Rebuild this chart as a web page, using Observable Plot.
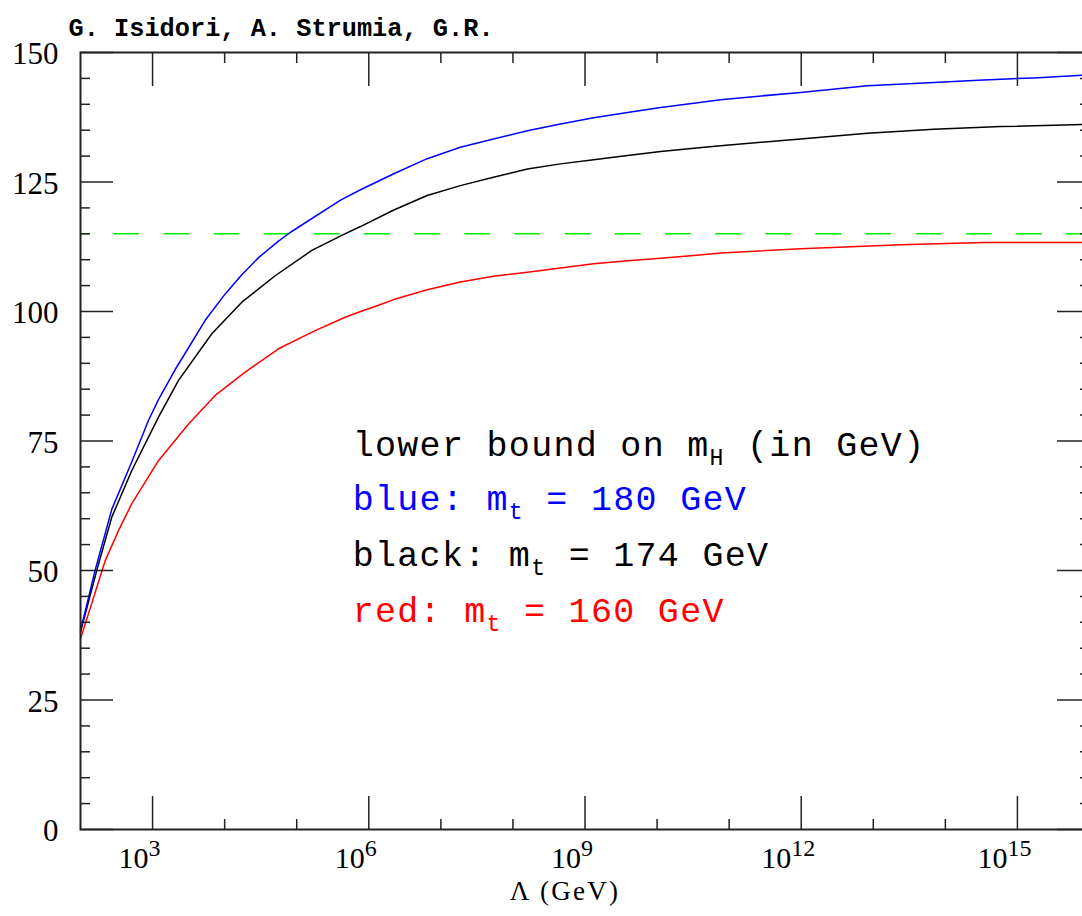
<!DOCTYPE html>
<html>
<head>
<meta charset="utf-8">
<script src="https://cdn.jsdelivr.net/npm/d3@7"></script>
<script src="https://cdn.jsdelivr.net/npm/@observablehq/plot@0.6"></script>
<style>
  html, body { margin: 0; padding: 0; background: #fff; overflow: hidden; }
  #chart svg { display: block; }
</style>
</head>
<body>
<div id="chart"></div>
<script>
// ---- data ----
// x = log10(Λ / GeV), y = lower bound on m_H (GeV)
const blueLog = [2.0, 2.204, 2.434, 2.712, 2.944, 3.082, 3.314, 3.499, 3.730, 4.008, 4.238, 4.470, 4.747, 4.914, 5.608, 5.885, 6.347, 6.81, 7.27, 7.73, 8.2, 8.66, 9.12, 9.59, 10.05, 10.51, 10.88, 11.99, 12.92, 13.84, 14.53, 15.23, 15.9, 16.0];
const blueMH  = [38.4, 50.1, 61.8, 71.0, 79.0, 83.0, 88.8, 93.0, 98.3, 103.4, 107.1, 110.4, 113.6, 115.3, 121.5, 123.5, 126.6, 129.5, 131.7, 133.3, 134.9, 136.2, 137.4, 138.4, 139.4, 140.2, 140.9, 142.3, 143.6, 144.2, 144.7, 145.1, 145.6, 145.7];

const blackLog = [2.0, 2.227, 2.434, 2.712, 3.082, 3.360, 3.822, 4.238, 4.701, 5.210, 5.653, 5.885, 6.347, 6.81, 7.27, 7.73, 8.2, 8.66, 9.12, 9.59, 10.05, 10.51, 10.88, 11.99, 12.92, 13.84, 14.77, 15.9, 16.0];
const blackMH  = [38.1, 50.1, 60.3, 69.3, 79.6, 86.7, 95.7, 101.8, 106.9, 111.8, 114.9, 116.4, 119.6, 122.4, 124.3, 125.9, 127.5, 128.5, 129.3, 130.1, 130.9, 131.5, 132.0, 133.3, 134.4, 135.2, 135.7, 136.1, 136.2];

const redLog = [2.0, 2.343, 2.527, 2.712, 3.082, 3.499, 3.869, 4.285, 4.747, 5.256, 5.672, 5.885, 6.135, 6.347, 6.81, 7.27, 7.73, 8.2, 8.66, 9.12, 9.59, 10.05, 10.51, 10.88, 11.99, 13.38, 14.53, 15.9, 16.0];
const redMH  = [36.8, 51.9, 57.7, 62.9, 71.2, 78.3, 83.8, 88.3, 92.8, 96.3, 98.9, 100.0, 101.2, 102.3, 104.2, 105.7, 106.8, 107.6, 108.4, 109.2, 109.8, 110.3, 110.8, 111.3, 112.1, 112.9, 113.3, 113.3, 113.3];

const lepBound = 115;                       // green dashed line (GeV)
const xDomainExp = [2, 16];                 // Λ from 10^2 to 10^16 GeV
const majorXExp = [3, 6, 9, 12, 15];
const minorXExp = [4, 5, 7, 8, 10, 11, 13, 14];
const majorY = [0, 25, 50, 75, 100, 125, 150];
const minorY = [5, 10, 15, 20, 30, 35, 40, 45, 55, 60, 65, 70, 80, 85, 90, 95, 105, 110, 115, 120, 130, 135, 140, 145];

const titleText = "G. Isidori, A. Strumia, G.R.";
const xLabel = "Λ (GeV)";
const legendLines = ["lower bound on m_{H} (in GeV)", "blue: m_{t} = 180 GeV", "black: m_{t} = 174 GeV", "red: m_{t} = 160 GeV"];
const legendColors = ["#000000", "#0000ff", "#000000", "#ff0000"];
// annotation anchor positions (data coordinates)
const legendAnchorExp = 5.777;
const legendAnchorY = [72.2, 61.6, 50.8, 40.0];

// ---- build tables ----
const mkRows = (xs, ys) => xs.map((e, i) => ({lam: Math.pow(10, e), m: ys[i]}));
const blueRows = mkRows(blueLog, blueMH);
const blackRows = mkRows(blackLog, blackMH);
const redRows = mkRows(redLog, redMH);
const legendRows = legendLines.map((t, i) => ({t, c: legendColors[i], lam: Math.pow(10, legendAnchorExp), m: legendAnchorY[i]}));
const pow10 = e => Math.pow(10, e);

const axisStroke = "#222";
const serif = "Liberation Serif";

const chart = Plot.plot({
  width: 1082,
  height: 916,
  marginLeft: 80,
  marginRight: -7,
  marginTop: 52,
  marginBottom: 87,
  style: {background: "#fff", fontFamily: serif, color: "#000", overflow: "hidden"},
  x: {type: "log", domain: xDomainExp.map(pow10)},
  y: {domain: [0, 150]},
  color: {type: "identity"},
  marks: [
    Plot.ruleY([lepBound], {x1: pow10(xDomainExp[0]), x2: pow10(xDomainExp[1]), stroke: "#00f000", strokeWidth: 1.5, strokeDasharray: "25.8,24.35", strokeDashoffset: 16.85}),
    Plot.line(redRows, {x: "lam", y: "m", stroke: "#ff0000", strokeWidth: 1.5}),
    Plot.line(blackRows, {x: "lam", y: "m", stroke: "#000000", strokeWidth: 1.5}),
    Plot.line(blueRows, {x: "lam", y: "m", stroke: "#0000ff", strokeWidth: 1.5}),

    // inward ticks, all four sides
    Plot.axisX({anchor: "bottom", ticks: majorXExp.map(pow10), tickSize: -33, tickFormat: () => "", label: null, stroke: axisStroke, strokeWidth: 1.5}),
    Plot.axisX({anchor: "bottom", ticks: minorXExp.map(pow10), tickSize: -10, tickFormat: () => "", label: null, stroke: axisStroke, strokeWidth: 1.5}),
    Plot.axisX({anchor: "top", ticks: majorXExp.map(pow10), tickSize: -33, tickFormat: () => "", label: null, stroke: axisStroke, strokeWidth: 1.5}),
    Plot.axisX({anchor: "top", ticks: minorXExp.map(pow10), tickSize: -10, tickFormat: () => "", label: null, stroke: axisStroke, strokeWidth: 1.5}),
    Plot.axisY({anchor: "left", ticks: majorY, tickSize: -33, tickFormat: () => "", label: null, stroke: axisStroke, strokeWidth: 1.5}),
    Plot.axisY({anchor: "left", ticks: minorY, tickSize: -10, tickFormat: () => "", label: null, stroke: axisStroke, strokeWidth: 1.5}),
    Plot.axisY({anchor: "right", ticks: majorY, tickSize: -33, tickFormat: () => "", label: null, stroke: axisStroke, strokeWidth: 1.5}),
    Plot.axisY({anchor: "right", ticks: minorY, tickSize: -10, tickFormat: () => "", label: null, stroke: axisStroke, strokeWidth: 1.5}),

    // tick labels
    Plot.axisY({anchor: "left", ticks: majorY, tickSize: 0, tickPadding: 22, tickFormat: d => String(d), label: null, fontSize: 31, fontFamily: serif, fill: "#000", dy: 2}),
    Plot.axisX({anchor: "bottom", ticks: majorXExp.map(pow10), tickSize: 0, tickPadding: 38, lineAnchor: "bottom", tickFormat: d => `10^{${Math.round(Math.log10(d))}}`, label: null, fontSize: 30, fontFamily: serif, fill: "#000", dx: -13}),

    Plot.frame({stroke: axisStroke, strokeWidth: 2}),

    // axis title and header
    Plot.text([xLabel], {frameAnchor: "bottom", dx: -20, dy: 70, lineAnchor: "bottom", fontSize: 27, fontFamily: serif, fill: "#000"}),
    Plot.text([titleText], {frameAnchor: "top-left", textAnchor: "start", lineAnchor: "bottom", dx: -12, dy: -17, fontSize: 25.3, fontWeight: "bold", fontFamily: "Liberation Mono", fill: "#000"}),

    // legend annotation
    Plot.text(legendRows, {x: "lam", y: "m", text: "t", fill: "c", textAnchor: "start", lineAnchor: "bottom", fontSize: 35, fontFamily: "Liberation Mono"})
  ]
});

// letter spacing for the annotation lines and the axis title
chart.querySelectorAll("text").forEach(t => {
  const s = t.textContent;
  if (legendLines.includes(s)) t.setAttribute("letter-spacing", "1.3");
  if (s === xLabel) t.setAttribute("letter-spacing", "2.3");
});

// rich text: _{..} subscripts and ^{..} superscripts become tspans
function richify(svg) {
  const NS = "http://www.w3.org/2000/svg";
  svg.querySelectorAll("text").forEach(t => {
    const s = t.textContent;
    if (!/[_^]\{/.test(s)) return;
    const parts = s.split(/([_^]\{[^}]*\})/).filter(p => p.length);
    while (t.firstChild) t.removeChild(t.firstChild);
    let pending = 0;
    parts.forEach(p => {
      const ts = document.createElementNS(NS, "tspan");
      const m = p.match(/^([_^])\{([^}]*)\}$/);
      if (m) {
        const sub = m[1] === "_";
        const shift = sub ? 9 : -12;
        ts.setAttribute("font-size", sub ? "0.66em" : "0.8em");
        ts.setAttribute("dy", String(shift + pending));
        pending = -shift;
        ts.textContent = m[2];
      } else {
        if (pending) ts.setAttribute("dy", String(pending));
        pending = 0;
        ts.textContent = p;
      }
      t.appendChild(ts);
    });
  });
}
richify(chart);
document.getElementById("chart").appendChild(chart);
</script>
</body>
</html>
